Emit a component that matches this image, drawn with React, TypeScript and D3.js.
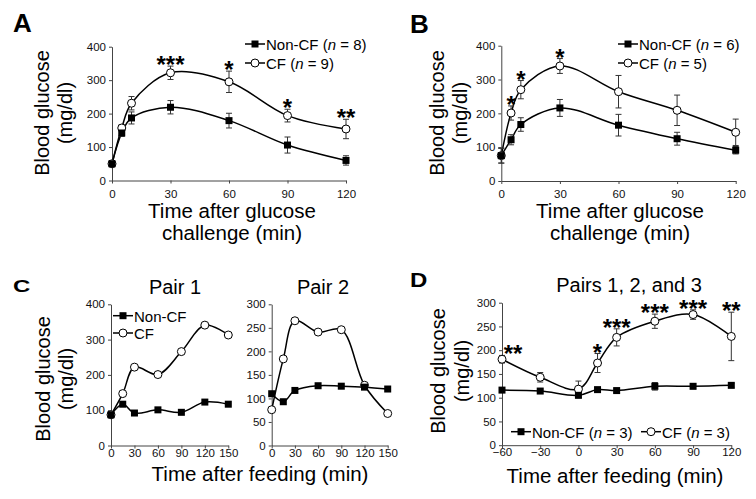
import React, { useEffect, useRef } from 'react';
import * as d3 from 'd3';

const FONT = '"Liberation Sans", Arial, Helvetica, sans-serif';

// Panel A: oral glucose tolerance (min after glucose challenge)
const timeAB = [0, 5, 10, 30, 60, 90, 120];
const aNonCF = [50, 142, 187, 219, 179, 106, 60];
const aNonCFErr = [5, 10, 18, 20, 22, 24, 14];
const aCF = [50, 157, 231, 322, 295, 194, 154];
const aCFErr = [5, 10, 20, 20, 32, 19, 29];
const aStars = ['', '', '', '***', '*', '*', '**'];

// Panel B
const bNonCF = [75, 122, 167, 216, 165, 125, 91];
const bNonCFErr = [22, 15, 20, 25, 32, 19, 11];
const bCF = [75, 201, 270, 340, 264, 209, 144];
const bCFErr = [22, 21, 27, 22, 48, 45, 39];
const bStars = ['', '*', '*', '*', '', '', ''];

// Panel C: single pairs after feeding
const timeC = [0, 15, 30, 60, 90, 120, 150];
const c1NonCF = [87, 117, 92, 101, 94, 123, 117];
const c1CF = [87, 147, 222, 201, 266, 341, 313];
const c2NonCF = [110, 93, 117, 127, 126, 124, 120];
const c2CF = [76, 184, 265, 241, 246, 128, 68];

// Panel D: pairs 1, 2 and 3
const timeD = [-60, -30, 0, 15, 30, 60, 90, 120];
const dNonCF = [116, 114, 105, 117, 115, 124, 124, 126];
const dNonCFErr = [4, 4, 5, 4, 4, 8, 5, 4];
const dCF = [181, 143, 118, 173, 227, 261, 275, 229];
const dCFErr = [8, 10, 17, 20, 18, 15, 10, 51];
const dStars = ['**', '', '', '*', '***', '***', '***', '**'];

const ticksAB = [0, 30, 60, 90, 120];
const ticksC = [0, 30, 60, 90, 120, 150];
const ticksD = [-60, -30, 0, 30, 60, 90, 120];
const yTicks400 = [0, 100, 200, 300, 400];
const yTicks300 = [0, 50, 100, 150, 200, 250, 300];

function drawPanel(root, p) {
  const x = d3.scaleLinear().domain(p.xDomain).range([p.left, p.right]);
  const y = d3.scaleLinear().domain(p.yDomain).range([p.bottom, p.top]);
  const g = root.append('g');

  const xAxis = g.append('g')
    .attr('transform', 'translate(0,' + p.bottom + ')')
    .call(d3.axisBottom(x).tickValues(p.xTicks).tickSize(3).tickPadding(p.xPad).tickSizeOuter(0));
  const yAxis = g.append('g')
    .attr('transform', 'translate(' + p.left + ',0)')
    .call(d3.axisLeft(y).tickValues(p.yTicks).tickSize(3).tickPadding(3).tickSizeOuter(0));
  [xAxis, yAxis].forEach(a => {
    a.selectAll('path,line').attr('stroke', '#444');
    a.selectAll('text').attr('font-family', FONT).attr('font-size', 11.5).attr('fill', '#111');
  });

  const line = d3.line()
    .x(d => x(d[0]))
    .y(d => y(d[1]))
    .curve(d3.curveCatmullRom.alpha(0.5));

  const series = [
    { v: p.cf, err: p.cfErr, kind: 'circle' },
    { v: p.nonCF, err: p.nonCFErr, kind: 'square' }
  ];

  series.forEach(s => {
    g.append('path')
      .datum(p.time.map((t, i) => [t, s.v[i]]))
      .attr('d', line)
      .attr('fill', 'none')
      .attr('stroke', '#000')
      .attr('stroke-width', 1.5);
  });

  series.forEach(s => {
    if (!s.err) return;
    p.time.forEach((t, i) => {
      const cx = x(t);
      const yt = y(s.v[i] + s.err[i]);
      const yb = y(s.v[i] - s.err[i]);
      g.append('line').attr('x1', cx).attr('x2', cx).attr('y1', yt).attr('y2', yb)
        .attr('stroke', '#333').attr('stroke-width', 1);
      [yt, yb].forEach(yy => {
        g.append('line').attr('x1', cx - 3).attr('x2', cx + 3).attr('y1', yy).attr('y2', yy)
          .attr('stroke', '#333').attr('stroke-width', 1);
      });
    });
  });

  series.forEach(s => {
    p.time.forEach((t, i) => {
      if (s.kind === 'circle') {
        g.append('circle').attr('cx', x(t)).attr('cy', y(s.v[i])).attr('r', 4)
          .attr('fill', '#fff').attr('stroke', '#000').attr('stroke-width', 1);
      } else {
        g.append('rect').attr('x', x(t) - 3.5).attr('y', y(s.v[i]) - 3.5)
          .attr('width', 7).attr('height', 7).attr('fill', '#000');
      }
    });
  });

  if (p.stars) {
    p.time.forEach((t, i) => {
      if (!p.stars[i]) return;
      const top = y(p.cf[i] + (p.cfErr ? p.cfErr[i] : 0));
      g.append('text')
        .attr('x', x(t) + (i === 0 && p.firstStarDx ? p.firstStarDx : 0))
        .attr('y', top + 7)
        .attr('text-anchor', 'middle')
        .attr('font-family', FONT)
        .attr('font-weight', 'bold')
        .attr('font-size', 24)
        .text(p.stars[i]);
    });
  }
}

function drawLegend(root, lx, ly, label, n, kind) {
  const g = root.append('g');
  g.append('line').attr('x1', lx).attr('x2', lx + 20).attr('y1', ly).attr('y2', ly)
    .attr('stroke', '#000').attr('stroke-width', 1.5);
  if (kind === 'circle') {
    g.append('circle').attr('cx', lx + 10).attr('cy', ly).attr('r', 4)
      .attr('fill', '#fff').attr('stroke', '#000');
  } else {
    g.append('rect').attr('x', lx + 6.5).attr('y', ly - 3.5).attr('width', 7).attr('height', 7).attr('fill', '#000');
  }
  const t = g.append('text').attr('x', lx + 21).attr('y', ly + 6)
    .attr('font-family', FONT).attr('font-size', 15).attr('fill', '#000');
  t.append('tspan').text(label);
  if (n) {
    t.append('tspan').text(' (');
    t.append('tspan').attr('font-style', 'italic').text('n');
    t.append('tspan').text(' = ' + n + ')');
  }
}

function text(root, x, y, str, size, opts = {}) {
  const t = root.append('text')
    .attr('x', x).attr('y', y)
    .attr('font-family', FONT)
    .attr('font-size', size)
    .attr('text-anchor', opts.anchor || 'middle')
    .attr('font-weight', opts.bold ? 'bold' : 'normal')
    .attr('fill', '#000')
    .text(str);
  if (opts.transform) t.attr('transform', opts.transform);
  return t;
}

function yTitle(root, bx1, bx2, cy) {
  text(root, 0, 0, 'Blood glucose', 20, { transform: 'translate(' + bx1 + ',' + cy + ') rotate(-90)' });
  text(root, 0, 0, '(mg/dl)', 20, { transform: 'translate(' + bx2 + ',' + cy + ') rotate(-90)' });
}

export default function App() {
  const ref = useRef(null);

  useEffect(() => {
    const svg = d3.select(ref.current);
    svg.selectAll('*').remove();

    // A
    drawPanel(svg, {
      left: 112, right: 346, top: 46.7, bottom: 180.5, xPad: 6,
      xDomain: [0, 120], yDomain: [0, 400], xTicks: ticksAB, yTicks: yTicks400,
      time: timeAB, nonCF: aNonCF, nonCFErr: aNonCFErr, cf: aCF, cfErr: aCFErr, stars: aStars
    });
    drawLegend(svg, 245, 44, 'Non-CF', 8, 'square');
    drawLegend(svg, 245, 63, 'CF', 9, 'circle');
    yTitle(svg, 49, 72, 113);
    text(svg, 232, 218, 'Time after glucose', 20.5);
    text(svg, 232, 240, 'challenge (min)', 20.5);
    text(svg, 13, 32, 'A', 26, { anchor: 'start', bold: true });

    // B
    drawPanel(svg, {
      left: 501.3, right: 735.7, top: 45.7, bottom: 181, xPad: 6,
      xDomain: [0, 120], yDomain: [0, 400], xTicks: ticksAB, yTicks: yTicks400,
      time: timeAB, nonCF: bNonCF, nonCFErr: bNonCFErr, cf: bCF, cfErr: bCFErr, stars: bStars
    });
    drawLegend(svg, 618, 44, 'Non-CF', 6, 'square');
    drawLegend(svg, 618, 63, 'CF', 5, 'circle');
    yTitle(svg, 444, 467, 113);
    text(svg, 620, 218, 'Time after glucose', 20.5);
    text(svg, 620, 240, 'challenge (min)', 20.5);
    text(svg, 410, 33, 'B', 26, { anchor: 'start', bold: true });

    // C
    drawPanel(svg, {
      left: 111, right: 228.3, top: 304.3, bottom: 445.5, xPad: 0,
      xDomain: [0, 150], yDomain: [0, 400], xTicks: ticksC, yTicks: yTicks400,
      time: timeC, nonCF: c1NonCF, cf: c1CF
    });
    drawPanel(svg, {
      left: 271.7, right: 387.7, top: 304.3, bottom: 445.5, xPad: 0,
      xDomain: [0, 150], yDomain: [0, 300], xTicks: ticksC, yTicks: yTicks300,
      time: timeC, nonCF: c2NonCF, cf: c2CF
    });
    drawLegend(svg, 113, 315.7, 'Non-CF', null, 'square');
    drawLegend(svg, 113, 333, 'CF', null, 'circle');
    text(svg, 175, 294, 'Pair 1', 20);
    text(svg, 323, 294, 'Pair 2', 20);
    yTitle(svg, 50, 73, 379);
    text(svg, 260, 481, 'Time after feeding (min)', 20.5);
    text(svg, 0, 0, 'C', 24, { anchor: 'start', bold: true, transform: 'translate(13,292) scale(1,0.72)' });

    // D
    drawPanel(svg, {
      left: 502, right: 731.3, top: 302.7, bottom: 445.2, xPad: 0,
      xDomain: [-60, 120], yDomain: [0, 300], xTicks: ticksD, yTicks: yTicks300,
      time: timeD, nonCF: dNonCF, nonCFErr: dNonCFErr, cf: dCF, cfErr: dCFErr, stars: dStars,
      firstStarDx: 11
    });
    drawLegend(svg, 511, 431.7, 'Non-CF', 3, 'square');
    drawLegend(svg, 641, 431.7, 'CF', 3, 'circle');
    text(svg, 629, 292, 'Pairs 1, 2, and 3', 20);
    yTitle(svg, 445, 469, 371);
    text(svg, 615, 483, 'Time after feeding (min)', 20.5);
    text(svg, 0, 0, 'D', 24, { anchor: 'start', bold: true, transform: 'translate(410,287) scale(1,0.82)' });
  }, []);

  return (
    <svg
      ref={ref}
      width={756}
      height={499}
      style={{ position: 'absolute', left: 0, top: 0, background: '#fff' }}
    />
  );
}
